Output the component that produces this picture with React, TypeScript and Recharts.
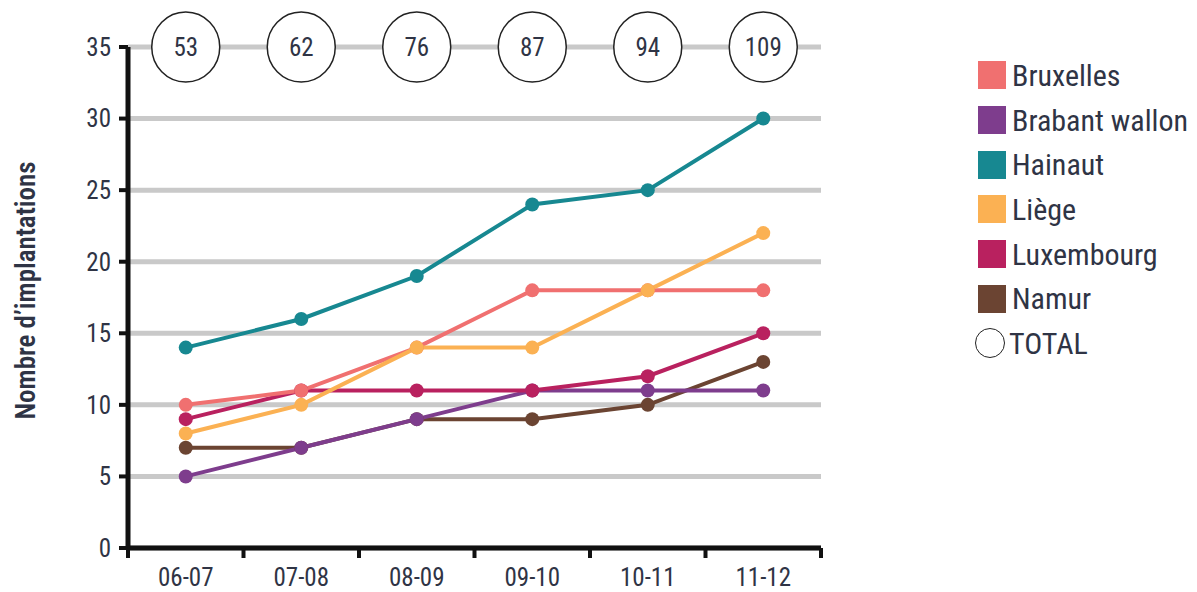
import React from "react";
import {
  LineChart,
  Line,
  XAxis,
  YAxis,
  CartesianGrid,
  ReferenceDot,
  Legend,
} from "recharts";

const periods = ["06-07", "07-08", "08-09", "09-10", "10-11", "11-12"];
const bruxelles = [10, 11, 14, 18, 18, 18];
const brabantWallon = [5, 7, 9, 11, 11, 11];
const hainaut = [14, 16, 19, 24, 25, 30];
const liege = [8, 10, 14, 14, 18, 22];
const luxembourg = [9, 11, 11, 11, 12, 15];
const namur = [7, 7, 9, 9, 10, 13];
const totals = [53, 62, 76, 87, 94, 109];
const yTicks = [0, 5, 10, 15, 20, 25, 30, 35];

const FONT = "'Liberation Sans Narrow', 'Roboto Condensed', Roboto, sans-serif";
const TEXT = "#2f3445";

// legend order
const series = [
  { key: "Bruxelles", color: "#f07070", values: bruxelles },
  { key: "Brabant wallon", color: "#7e3d8d", values: brabantWallon },
  { key: "Hainaut", color: "#178891", values: hainaut },
  { key: "Liège", color: "#fbb153", values: liege },
  { key: "Luxembourg", color: "#b9215f", values: luxembourg },
  { key: "Namur", color: "#6b4432", values: namur },
];

// drawing order (last on top)
const drawOrder = ["Namur", "Brabant wallon", "Luxembourg", "Bruxelles", "Liège", "Hainaut"];

const data = periods.map((p, i) => {
  const row: Record<string, string | number> = { period: p };
  series.forEach((s) => (row[s.key] = s.values[i]));
  return row;
});

const W = 1197;
const H = 592;
const LEFT = 128;
const RIGHT = 821;
const BAND = (RIGHT - LEFT) / periods.length;

function XTick(props: any) {
  const { x, y, payload, index } = props;
  return (
    <g>
      <line x1={x - BAND / 2} x2={x - BAND / 2} y1={y - 8} y2={y + 2} stroke="#111" strokeWidth={4} />
      {index === periods.length - 1 && (
        <line x1={x + BAND / 2} x2={x + BAND / 2} y1={y - 8} y2={y + 2} stroke="#111" strokeWidth={4} />
      )}
      <text x={x} y={y + 30} textAnchor="middle" fontSize={25} fill={TEXT} fontFamily={FONT}>
        {payload.value}
      </text>
    </g>
  );
}

function TotalBubble(props: any) {
  const { cx, cy, value } = props;
  return (
    <g>
      <ellipse cx={cx} cy={cy} rx={34} ry={35} fill="#fff" stroke="#222" strokeWidth={1.5} />
      <text x={cx} y={cy + 9} textAnchor="middle" fontSize={25} fill={TEXT} fontFamily={FONT}>
        {value}
      </text>
    </g>
  );
}

function LegendBox() {
  return (
    <div style={{ fontFamily: FONT, color: TEXT, fontSize: 30 }}>
      {series.map((s) => (
        <div key={s.key} style={{ display: "flex", alignItems: "center", height: 44.7 }}>
          <span style={{ width: 28, height: 28, background: s.color, marginRight: 6, display: "inline-block" }} />
          <span>{s.key}</span>
        </div>
      ))}
      <div style={{ display: "flex", alignItems: "center", height: 44.7 }}>
        <span
          style={{
            width: 28,
            height: 28,
            borderRadius: "50%",
            border: "1.5px solid #222",
            marginLeft: -3,
            marginRight: 4,
            display: "inline-block",
          }}
        />
        <span>TOTAL</span>
      </div>
    </div>
  );
}

export default function App() {
  return (
    <div style={{ position: "absolute", left: 0, top: 0, width: W, height: H, background: "#fff" }}>
      <LineChart
        width={W}
        height={H}
        data={data}
        margin={{ top: 47, right: W - RIGHT, bottom: 0, left: 0 }}
      >
        <CartesianGrid horizontal vertical={false} stroke="#c9c9c9" strokeWidth={5} />
        <XAxis
          dataKey="period"
          scale="band"
          height={44}
          axisLine={{ stroke: "#111", strokeWidth: 5 }}
          tickLine={false}
          tick={<XTick />}
          interval={0}
        />
        <YAxis
          width={LEFT}
          domain={[0, 35]}
          ticks={yTicks}
          interval={0}
          axisLine={{ stroke: "#111", strokeWidth: 5 }}
          tickLine={{ stroke: "#111", strokeWidth: 4 }}
          tickSize={9}
          tick={{ fontSize: 25, fill: TEXT, fontFamily: FONT, dx: -6 }}
          label={(p: any) => {
            const vb = p.viewBox;
            const cx = vb.x + 28;
            const cy = vb.y + vb.height / 2 - 7;
            return (
              <text
                x={cx}
                y={cy}
                transform={`rotate(-90 ${cx} ${cy})`}
                textAnchor="middle"
                dominantBaseline="middle"
                fontSize={27}
                fontWeight={600}
                fill={TEXT}
                fontFamily={FONT}
              >
                Nombre d’implantations
              </text>
            );
          }}
        />
        {drawOrder.map((k) => {
          const s = series.find((x) => x.key === k)!;
          return (
            <Line
              key={k}
              dataKey={k}
              stroke={s.color}
              strokeWidth={4}
              dot={{ r: 7, fill: s.color, stroke: s.color, strokeWidth: 0 }}
              activeDot={false}
              isAnimationActive={false}
            />
          );
        })}
        {periods.map((p, i) => (
          <ReferenceDot
            key={p}
            x={p}
            y={35}
            ifOverflow="visible"
            shape={(props: any) => <TotalBubble {...props} value={totals[i]} />}
          />
        ))}
        <Legend
          layout="vertical"
          align="center"
          verticalAlign="middle"
          wrapperStyle={{ left: 978, top: 53, width: 219 }}
          content={() => <LegendBox />}
        />
      </LineChart>
    </div>
  );
}
